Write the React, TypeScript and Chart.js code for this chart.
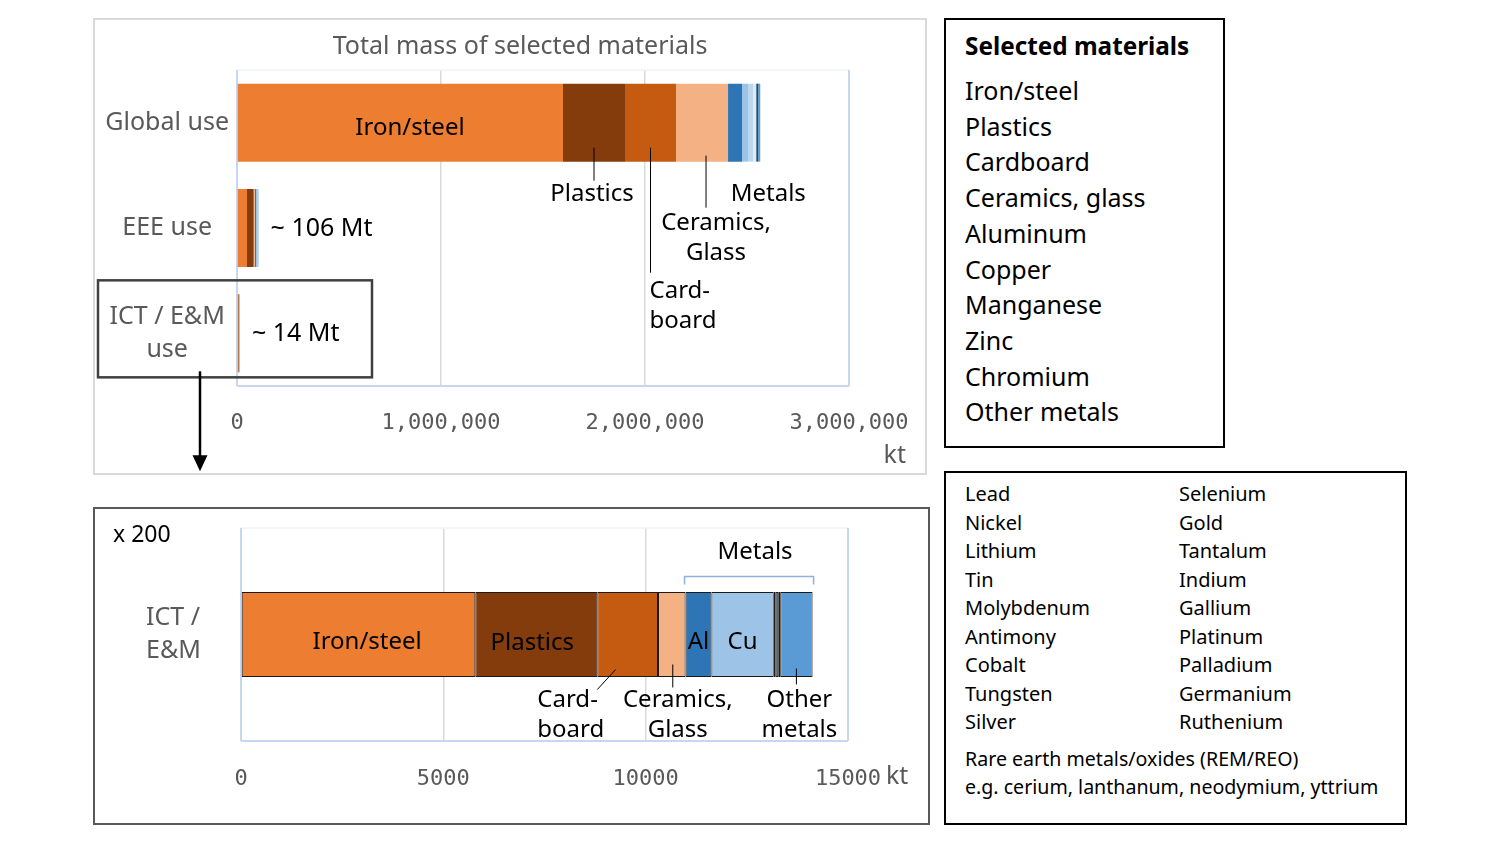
import React, { useEffect, useRef } from "react";
import { Chart, registerables } from "chart.js";

Chart.register(...registerables);

const FONT = "'Noto Sans', sans-serif";
const MONO = "'DejaVu Sans Mono', monospace";

// ---------- data ----------
const categories = [["Global use"], ["EEE use"], ["ICT / E&M", "use"]];
const zoomCategory = [["ICT /", "E&M"]];
const materials = [
  "Iron/steel",
  "Plastics",
  "Cardboard",
  "Ceramics, glass",
  "Aluminum",
  "Copper",
  "Manganese",
  "Zinc",
  "Chromium",
  "Other metals",
];
// kt: [Global use, EEE use, ICT / E&M use]
const ironSteel = [1598000, 49000, 5790];
const plastics = [304000, 30000, 3015];
const cardboard = [250000, 4000, 1500];
const ceramicsGlass = [255000, 4000, 680];
const aluminum = [69000, 6000, 640];
const copper = [29000, 9000, 1540];
const manganese = [25000, 1500, 50];
const zinc = [15000, 1000, 60];
const chromium = [10000, 500, 50];
const otherMetals = [10000, 1000, 800];
const seriesValues = [ironSteel, plastics, cardboard, ceramicsGlass, aluminum, copper, manganese, zinc, chromium, otherMetals];
const colors = ["#ED7D31", "#843C0C", "#C55A11", "#F4B183", "#2E75B6", "#9DC3E6", "#BDD7EE", "#DEEBF7", "#1F4E79", "#5B9BD5"];
const topTicks = [0, 1000000, 2000000, 3000000];
const bottomTicks = [0, 5000, 10000, 15000];
const otherMetalsCol1 = ["Lead", "Nickel", "Lithium", "Tin", "Molybdenum", "Antimony", "Cobalt", "Tungsten", "Silver"];
const otherMetalsCol2 = ["Selenium", "Gold", "Tantalum", "Indium", "Gallium", "Platinum", "Palladium", "Germanium", "Ruthenium"];
const remLines = ["Rare earth metals/oxides (REM/REO)", "e.g. cerium, lanthanum, neodymium, yttrium"];

// ---------- helpers ----------
function txt(ctx: any, s: string, x: number, y: number, align = "center", size = 24, color = "#000", font = FONT, weight = "normal") {
  ctx.save();
  ctx.font = `${weight} ${size}px ${font}`;
  ctx.fillStyle = color;
  ctx.textAlign = align;
  ctx.textBaseline = "middle";
  ctx.fillText(s, x, y);
  ctx.restore();
}
function line(ctx: any, x1: number, y1: number, x2: number, y2: number, color = "#000", w = 1) {
  ctx.save();
  ctx.strokeStyle = color;
  ctx.lineWidth = w;
  ctx.beginPath();
  ctx.moveTo(x1, y1);
  ctx.lineTo(x2, y2);
  ctx.stroke();
  ctx.restore();
}
function seg(chart: any, k: number, i: number) {
  const xs = chart.scales.x;
  let cum = 0;
  for (let j = 0; j < k; j++) cum += chart.data.datasets[j].data[i];
  const v = chart.data.datasets[k].data[i];
  const x0 = xs.getPixelForValue(cum);
  const x1 = xs.getPixelForValue(cum + v);
  return { x0, x1, xc: (x0 + x1) / 2 };
}
function frame(chart: any) {
  const { ctx, chartArea: a } = chart;
  line(ctx, a.left, a.top, a.right, a.top, "#eef2fa", 1.5);
  line(ctx, a.left, a.top, a.left, a.bottom, "#c8d6ef", 2);
  line(ctx, a.left, a.bottom, a.right, a.bottom, "#c8d6ef", 2);
  line(ctx, a.right, a.top, a.right, a.bottom, "#c8d6ef", 2);
}

const topPlugin = {
  id: "topAnnot",
  beforeDatasetsDraw(chart: any) {
    frame(chart);
  },
  afterDatasetsDraw(chart: any) {
    const { ctx, chartArea: a } = chart;
    const ys = chart.scales.y;
    const y0 = ys.getPixelForValue(0);
    const y1 = ys.getPixelForValue(1);
    const y2 = ys.getPixelForValue(2);
    // title
    txt(ctx, "Total mass of selected materials", 427, 29, "center", 25, "#595959");
    // inside bar
    const iron = seg(chart, 0, 0);
    txt(ctx, "Iron/steel", iron.xc + 10, y0 + 5, "center", 24);
    // plastics
    const pl = seg(chart, 1, 0);
    line(ctx, pl.xc, y0 + 25, pl.xc, y0 + 58);
    txt(ctx, "Plastics", pl.xc - 2, y0 + 71, "center", 24);
    // cardboard
    const cb = seg(chart, 2, 0);
    line(ctx, cb.xc, y0 + 25, cb.xc, y0 + 150);
    txt(ctx, "Card-", cb.xc - 1, y0 + 168, "left", 24);
    txt(ctx, "board", cb.xc - 1, y0 + 198, "left", 24);
    // ceramics
    const ce = seg(chart, 3, 0);
    line(ctx, ce.xc + 4, y0 + 33, ce.xc + 4, y0 + 85);
    txt(ctx, "Ceramics,", ce.xc + 14, y0 + 100, "center", 24);
    txt(ctx, "Glass", ce.xc + 14, y0 + 130, "center", 24);
    // metals
    const endG = seg(chart, 9, 0).x1;
    txt(ctx, "Metals", endG + 8, y0 + 71, "center", 24);
    // totals
    txt(ctx, "~ 106 Mt", seg(chart, 9, 1).x1 + 12, y1 + 1, "left", 25);
    txt(ctx, "~ 14 Mt", seg(chart, 9, 2).x1 + 12, y2 + 1, "left", 25);
    // kt unit
    txt(ctx, "kt", a.right + 57, a.bottom + 70, "right", 25, "#595959");
    // highlight box
    ctx.save();
    ctx.strokeStyle = "#404040";
    ctx.lineWidth = 2.5;
    ctx.strokeRect(5, y2 - 53, 274, 97);
    ctx.restore();
    // arrow
    const ax = 107;
    line(ctx, ax, y2 + 38, ax, y2 + 124, "#000", 2.5);
    ctx.save();
    ctx.fillStyle = "#000";
    ctx.beginPath();
    ctx.moveTo(ax - 7.5, y2 + 122);
    ctx.lineTo(ax + 7.5, y2 + 122);
    ctx.lineTo(ax, y2 + 138);
    ctx.closePath();
    ctx.fill();
    ctx.restore();
  },
};

const bottomPlugin = {
  id: "bottomAnnot",
  beforeDatasetsDraw(chart: any) {
    frame(chart);
  },
  afterDatasetsDraw(chart: any) {
    const { ctx, chartArea: a } = chart;
    const xs = chart.scales.x;
    const yc = chart.scales.y.getPixelForValue(0);
    txt(ctx, "x 200", 20, 28, "left", 23, "#000");
    const iron = seg(chart, 0, 0);
    txt(ctx, "Iron/steel", iron.xc + 9, yc + 8, "center", 24);
    const pl = seg(chart, 1, 0);
    txt(ctx, "Plastics", pl.xc - 4, yc + 9, "center", 24);
    const al = seg(chart, 4, 0);
    txt(ctx, "Al", al.xc, yc + 8, "center", 24);
    const cu = seg(chart, 5, 0);
    txt(ctx, "Cu", cu.xc, yc + 8, "center", 24);
    // cardboard
    const cb = seg(chart, 2, 0);
    line(ctx, cb.xc - 12, yc + 35, cb.x0, yc + 55);
    txt(ctx, "Card-", cb.x0 - 60, yc + 66, "left", 24);
    txt(ctx, "board", cb.x0 - 60, yc + 96, "left", 24);
    // ceramics
    const ce = seg(chart, 3, 0);
    line(ctx, ce.xc + 1, yc + 30, ce.xc + 1, yc + 53);
    txt(ctx, "Ceramics,", ce.xc + 6, yc + 66, "center", 24);
    txt(ctx, "Glass", ce.xc + 6, yc + 96, "center", 24);
    // other metals
    const om = seg(chart, 9, 0);
    line(ctx, om.xc, yc + 34, om.xc, yc + 50);
    txt(ctx, "Other", om.xc + 3, yc + 66, "center", 24);
    txt(ctx, "metals", om.xc + 3, yc + 96, "center", 24);
    // metals bracket
    const mx0 = al.x0 - 1;
    const mx1 = om.x1 + 1;
    ctx.save();
    ctx.strokeStyle = "#8fb0e0";
    ctx.lineWidth = 1.5;
    ctx.beginPath();
    ctx.moveTo(mx0, yc - 50);
    ctx.lineTo(mx0, yc - 58);
    ctx.lineTo(mx1, yc - 58);
    ctx.lineTo(mx1, yc - 50);
    ctx.stroke();
    ctx.restore();
    txt(ctx, "Metals", (mx0 + mx1) / 2 + 6, yc - 82, "center", 24);
    // unit
    txt(ctx, "kt", xs.getPixelForValue(bottomTicks[bottomTicks.length - 1]) + 38, a.bottom + 36, "left", 25, "#595959");
  },
};

function gridColor(n: number) {
  return (c: any) => (c.index > 0 && c.index < n - 1 ? "#d9d9d9" : "rgba(0,0,0,0)");
}

export default function App() {
  const topRef = useRef<HTMLCanvasElement>(null);
  const botRef = useRef<HTMLCanvasElement>(null);

  useEffect(() => {
    const top = new Chart(topRef.current as HTMLCanvasElement, {
      type: "bar",
      data: {
        labels: categories as any,
        datasets: seriesValues.map((vals, k) => ({
          label: materials[k],
          data: vals,
          backgroundColor: colors[k],
          borderWidth: 0,
          barPercentage: 0.74,
          categoryPercentage: 1,
        })),
      },
      options: {
        indexAxis: "y",
        responsive: false,
        animation: false,
        devicePixelRatio: 1,
        layout: { padding: { top: 52, right: 77, left: 0, bottom: 0 } },
        plugins: { legend: { display: false }, tooltip: { enabled: false }, title: { display: false } },
        scales: {
          x: {
            stacked: true,
            min: topTicks[0],
            max: topTicks[topTicks.length - 1],
            afterBuildTicks: (s: any) => {
              s.ticks = topTicks.map((v) => ({ value: v }));
            },
            afterFit: (s: any) => {
              s.height = 88;
              s.paddingLeft = 0;
              s.paddingRight = 0;
            },
            grid: { color: gridColor(topTicks.length), drawTicks: false, lineWidth: 1.5 },
            border: { display: false },
            ticks: {
              padding: 24,
              color: "#595959",
              font: { family: MONO, size: 22 },
              maxRotation: 0,
              callback: (v: any) => Number(v).toLocaleString("en-US"),
            },
          },
          y: {
            stacked: true,
            afterFit: (s: any) => {
              s.width = 144;
              s.paddingTop = 0;
              s.paddingBottom = 0;
            },
            grid: { display: false, drawTicks: false },
            border: { display: false },
            ticks: {
              crossAlign: "center",
              padding: 8,
              color: "#595959",
              font: { family: FONT, size: 25, lineHeight: 1.35 },
            },
          },
        },
      } as any,
      plugins: [topPlugin],
    });

    const bottom = new Chart(botRef.current as HTMLCanvasElement, {
      type: "bar",
      data: {
        labels: zoomCategory as any,
        datasets: seriesValues.map((vals, k) => ({
          label: materials[k],
          data: [vals[2]],
          backgroundColor: colors[k],
          borderColor: "#1a1a1a",
          borderWidth: 1,
          borderSkipped: false,
          barPercentage: 0.4,
          categoryPercentage: 1,
        })),
      },
      options: {
        indexAxis: "y",
        responsive: false,
        animation: false,
        devicePixelRatio: 1,
        layout: { padding: { top: 21, right: 81, left: 53, bottom: 0 } },
        plugins: { legend: { display: false }, tooltip: { enabled: false } },
        scales: {
          x: {
            stacked: true,
            min: bottomTicks[0],
            max: bottomTicks[bottomTicks.length - 1],
            afterBuildTicks: (s: any) => {
              s.ticks = bottomTicks.map((v) => ({ value: v }));
            },
            afterFit: (s: any) => {
              s.height = 83;
              s.paddingLeft = 0;
              s.paddingRight = 0;
            },
            grid: { color: gridColor(bottomTicks.length), drawTicks: false, lineWidth: 1.5 },
            border: { display: false },
            ticks: {
              padding: 25,
              color: "#595959",
              font: { family: MONO, size: 22 },
              maxRotation: 0,
              callback: (v: any) => String(v),
            },
          },
          y: {
            stacked: true,
            afterFit: (s: any) => {
              s.width = 95;
              s.paddingTop = 0;
              s.paddingBottom = 0;
            },
            grid: { display: false, drawTicks: false },
            border: { display: false },
            ticks: {
              crossAlign: "far",
              padding: 4,
              color: "#595959",
              font: { family: FONT, size: 25, lineHeight: 1.3 },
            },
          },
        },
      } as any,
      plugins: [bottomPlugin],
    });

    return () => {
      top.destroy();
      bottom.destroy();
    };
  }, []);

  const abs = (l: number, t: number, w: number, h: number, extra: any = {}) => ({
    position: "absolute" as const,
    left: l,
    top: t,
    width: w,
    height: h,
    boxSizing: "border-box" as const,
    ...extra,
  });
  const lineDiv = (s: string, l: number, center: number, size: number, lh: number, extra: any = {}) => (
    <div
      key={s + center}
      style={{
        position: "absolute",
        left: l,
        top: center - lh / 2,
        height: lh,
        lineHeight: lh + "px",
        fontSize: size,
        whiteSpace: "nowrap",
        color: "#000",
        ...extra,
      }}
    >
      {s}
    </div>
  );

  return (
    <div style={{ position: "absolute", left: 0, top: 0, width: 1500, height: 844, background: "#fff", fontFamily: FONT, overflow: "hidden" }}>
      <div style={abs(93, 18, 834, 457, { border: "2px solid #d9d9d9" })} />
      <div style={abs(93, 507, 837, 318, { border: "2px solid #595959" })} />
      <canvas ref={topRef} width={833} height={456} style={{ position: "absolute", left: 93, top: 18, width: 833, height: 456 }} />
      <canvas ref={botRef} width={836} height={317} style={{ position: "absolute", left: 93, top: 507, width: 836, height: 317 }} />

      <div style={abs(944, 18, 281, 430, { border: "2px solid #000" })}>
        {lineDiv("Selected materials", 19, 26, 24.3, 36, { fontWeight: 700 })}
        {materials.map((m, i) => lineDiv(m, 19, 70 + i * 35.7, 25, 36))}
      </div>

      <div style={abs(944, 471, 463, 354, { border: "2px solid #000" })}>
        {otherMetalsCol1.map((m, i) => lineDiv(m, 19, 21 + i * 28.5, 20, 28))}
        {otherMetalsCol2.map((m, i) => lineDiv(m, 233, 21 + i * 28.5, 20, 28))}
        {remLines.map((m, i) => lineDiv(m, 19, 286 + i * 28, 19.6, 28))}
      </div>
    </div>
  );
}
